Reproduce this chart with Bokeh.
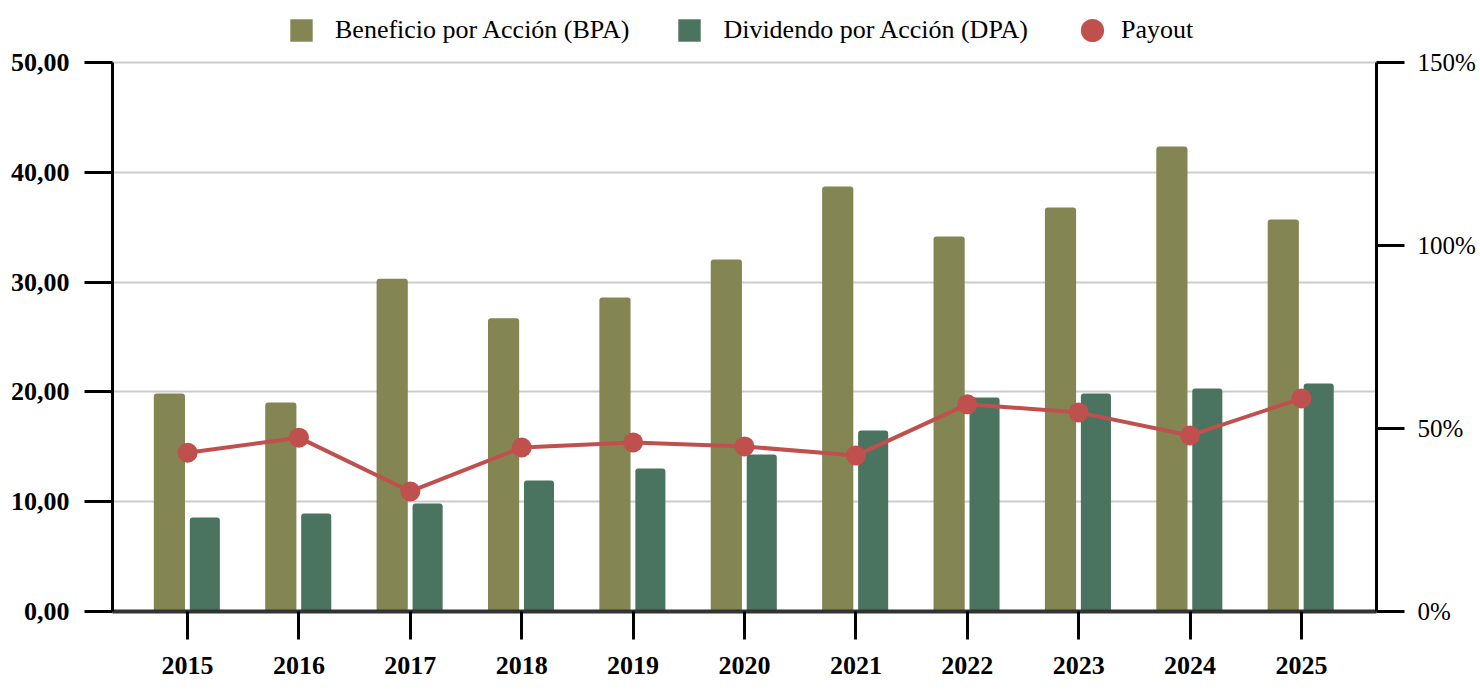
from bokeh.plotting import figure
from bokeh.models import ColumnDataSource, LinearAxis, Range1d, FixedTicker, Legend, LegendItem
from bokeh.transform import dodge
from bokeh.embed import file_html
from bokeh.resources import INLINE

years = ["2015", "2016", "2017", "2018", "2019", "2020", "2021", "2022", "2023", "2024", "2025"]
bpa = [19.85, 19.03, 30.3, 26.7, 28.6, 32.06, 38.7, 34.15, 36.8, 42.35, 35.7]
dpa = [8.56, 8.93, 9.84, 11.93, 13.02, 14.3, 16.48, 19.49, 19.85, 20.3, 20.77]
payout = [43.4, 47.5, 32.8, 44.8, 46.2, 45.1, 42.6, 56.6, 54.4, 48.1, 58.2]
left_ticks = [0, 10, 20, 30, 40, 50]
left_labels = ["0,00", "10,00", "20,00", "30,00", "40,00", "50,00"]
right_ticks = [0, 50, 100, 150]
right_labels = ["0%", "50%", "100%", "150%"]

FONT = "Liberation Serif"
C_BPA = "#838553"
C_DPA = "#4a7360"
C_PAY = "#c0504d"

# frame spans the whole height above the x axis, so the legend fits inside it;
# axes are bounded to the data ranges (0-50 and 0-150%)
FRAME_H = 611
DATA_H = 549
y_top = 50 * FRAME_H / DATA_H
pct_top = 150 * FRAME_H / DATA_H

xs = list(range(len(years)))
src = ColumnDataSource(dict(x=xs, bpa=bpa, dpa=dpa, payout=payout))

p = figure(width=1478, height=683, output_backend="svg", toolbar_location=None,
           x_range=Range1d(-0.674, len(years) - 1 + 0.674), y_range=Range1d(0, y_top),
           min_border_left=112, min_border_right=97, min_border_top=0, min_border_bottom=72)
p.extra_y_ranges = {"pct": Range1d(0, pct_top)}
p.outline_line_color = None
p.xgrid.grid_line_color = None
p.ygrid.grid_line_color = "#cccccc"
p.ygrid.grid_line_width = 2
p.ygrid.ticker = FixedTicker(ticks=left_ticks)

r_bpa = p.vbar(x=dodge("x", -0.163, range=p.x_range), top="bpa", width=0.28, source=src,
               fill_color=C_BPA, line_color=None, border_radius=(3, 3, 0, 0))
r_dpa = p.vbar(x=dodge("x", 0.155, range=p.x_range), top="dpa", width=0.27, source=src,
               fill_color=C_DPA, line_color=None, border_radius=(3, 3, 0, 0))
p.line(x="x", y="payout", source=src, y_range_name="pct", line_color=C_PAY, line_width=4)
r_pay = p.scatter(x="x", y="payout", source=src, y_range_name="pct", size=20,
                  fill_color=C_PAY, line_color=None)


def style_axis(ax, bold=True, size="26px", standoff=14):
    ax.axis_line_color = "black"
    ax.axis_line_width = 3
    ax.major_tick_line_color = "black"
    ax.major_tick_line_width = 3
    ax.major_tick_out = 28
    ax.major_tick_in = 0
    ax.minor_tick_line_color = None
    ax.major_label_standoff = standoff
    ax.major_label_text_font = FONT
    ax.major_label_text_font_size = size
    ax.major_label_text_font_style = "bold" if bold else "normal"
    ax.major_label_text_color = "black"


# x axis
xa = p.xaxis[0]
xa.ticker = FixedTicker(ticks=xs)
xa.major_label_overrides = {i: y for i, y in enumerate(years)}
style_axis(xa, standoff=17)
xa.axis_line_color = "#333333"
xa.axis_line_width = 4

# left axis
ya = p.yaxis[0]
ya.ticker = FixedTicker(ticks=left_ticks)
ya.major_label_overrides = {t: l for t, l in zip(left_ticks, left_labels)}
ya.bounds = (left_ticks[0], left_ticks[-1])
style_axis(ya, standoff=15)

# right axis
ra = LinearAxis(y_range_name="pct", ticker=FixedTicker(ticks=right_ticks))
ra.major_label_overrides = {t: l for t, l in zip(right_ticks, right_labels)}
ra.bounds = (right_ticks[0], right_ticks[-1])
style_axis(ra, bold=False, size="25px", standoff=13)
p.add_layout(ra, "right")


def style_legend(lg):
    lg.label_text_font = FONT
    lg.label_text_font_size = "26px"
    lg.label_text_color = "black"
    lg.border_line_color = None
    lg.background_fill_alpha = 0
    lg.padding = 0
    lg.margin = 0


legend1 = Legend(items=[LegendItem(label="Beneficio por Acción (BPA)", renderers=[r_bpa]),
                        LegendItem(label="Dividendo por Acción (DPA)", renderers=[r_dpa])],
                 orientation="horizontal", location=(175, 566))
style_legend(legend1)
legend1.glyph_width = 28
legend1.glyph_height = 28
legend1.spacing = 46
legend1.label_standoff = 20
p.add_layout(legend1, "center")

legend2 = Legend(items=[LegendItem(label="Payout", renderers=[r_pay])],
                 orientation="horizontal", location=(951, 552))
style_legend(legend2)
legend2.glyph_width = 58
legend2.glyph_height = 58
legend2.label_standoff = 0
p.add_layout(legend2, "center")

open("out.html", "w").write(file_html(p, INLINE))
